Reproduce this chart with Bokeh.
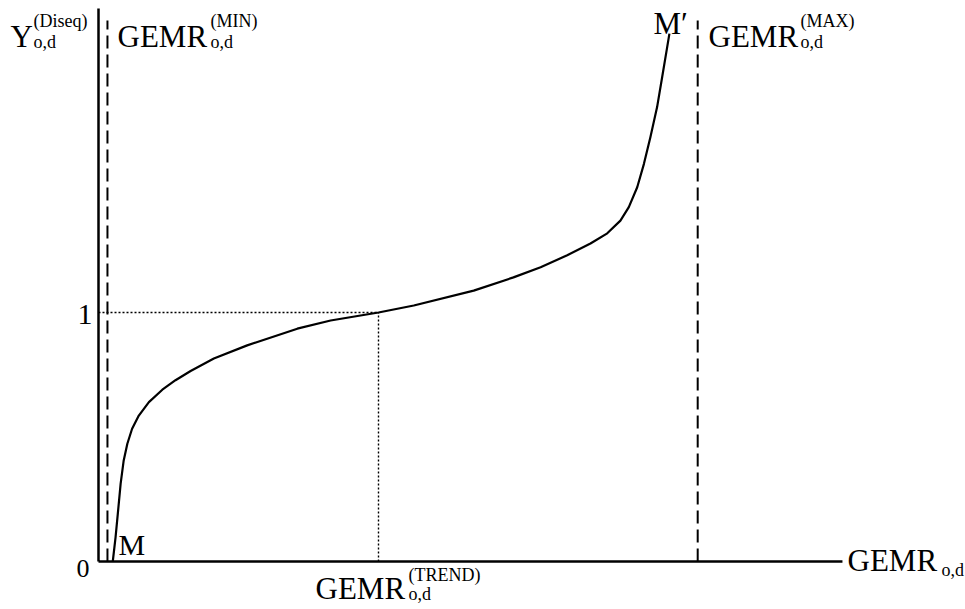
from bokeh.plotting import figure
from bokeh.models import Range1d, Label
from bokeh.embed import file_html
from bokeh.resources import INLINE

# ---- data ----
curve_x = [0.051, 0.061, 0.069, 0.079, 0.090, 0.103, 0.120, 0.144, 0.180, 0.228, 0.275, 0.329,
           0.412, 0.531, 0.710, 0.829, 1.000, 1.126, 1.340, 1.482, 1.579, 1.674, 1.757, 1.817,
           1.864, 1.894, 1.924, 1.948, 1.971, 1.995, 2.013, 2.031, 2.039]
curve_y = [0.000, 0.098, 0.192, 0.312, 0.406, 0.473, 0.533, 0.586, 0.640, 0.690, 0.728, 0.765,
           0.815, 0.868, 0.935, 0.968, 1.000, 1.028, 1.088, 1.141, 1.182, 1.230, 1.277, 1.318,
           1.369, 1.423, 1.503, 1.597, 1.704, 1.825, 1.945, 2.066, 2.120]
gemr_min = 0.032
gemr_trend = 1.0
gemr_max = 2.14
y_ref = 1.0
x_axis_end = 2.657
y_axis_top = 2.221
bound_top = 2.173

W, H = 965, 609
X0, Y0, SX, SY = 98, 561, 280.0, 249.0   # pixel layout of the frame


def dx(px):
    return (px - X0) / SX


def dy(py):
    return (Y0 - py) / SY


p = figure(width=W, height=H, output_backend="svg", toolbar_location=None,
           x_range=Range1d(dx(0), dx(W)), y_range=Range1d(dy(H), dy(0)),
           min_border=0, outline_line_color=None)
p.axis.visible = False
p.grid.visible = False
p.background_fill_color = "white"
p.border_fill_color = "white"

# axes
p.segment(x0=[0], y0=[0], x1=[0], y1=[y_axis_top], line_color="black", line_width=2.5)
p.segment(x0=[0], y0=[0], x1=[x_axis_end], y1=[0], line_color="black", line_width=2.5)
# bounds
p.segment(x0=[gemr_min, gemr_max], y0=[0, 0], x1=[gemr_min, gemr_max], y1=[bound_top, bound_top],
          line_color="black", line_width=2, line_dash="13 6")
# reference dotted lines
p.segment(x0=[0, gemr_trend], y0=[y_ref, 0], x1=[gemr_trend, gemr_trend], y1=[y_ref, y_ref],
          line_color="black", line_width=1.4, line_dash="2 2")
# curve
p.line(curve_x, curve_y, line_color="black", line_width=2.2, line_join="round")

FONT = "Liberation Serif"
SHIFT = 9  # baseline correction in pixels


def lab(text, px, py, size):
    p.add_layout(Label(x=dx(px), y=dy(py - SHIFT), text=text, text_font=FONT,
                       text_font_size=f"{size}px", text_color="black",
                       text_baseline="alphabetic", text_align="left"))


# Y label
lab("Y", 10, 45, 31)
lab("(Diseq)", 33, 29, 18)
lab("o,d", 33, 50, 18)
# GEMR MIN
lab("GEMR", 117, 45, 31)
lab("(MIN)", 210, 29, 18)
lab("o,d", 210, 50, 18)
# GEMR MAX
lab("GEMR", 708, 45, 31)
lab("(MAX)", 800, 29, 18)
lab("o,d", 800, 50, 18)
# M'
lab("M\u2032", 653, 32, 31)
# M
lab("M", 118, 553, 30)
# tick labels
lab("0", 76, 577, 26)
lab("1", 77, 323, 30)
# TREND
lab("GEMR", 315, 597, 31)
lab("(TREND)", 408, 583, 18)
lab("o,d", 408, 602, 18)
# x axis label
lab("GEMR", 847, 569, 31)
lab("o,d", 941, 578, 18)

open("out.html", "w").write(file_html(p, INLINE))
